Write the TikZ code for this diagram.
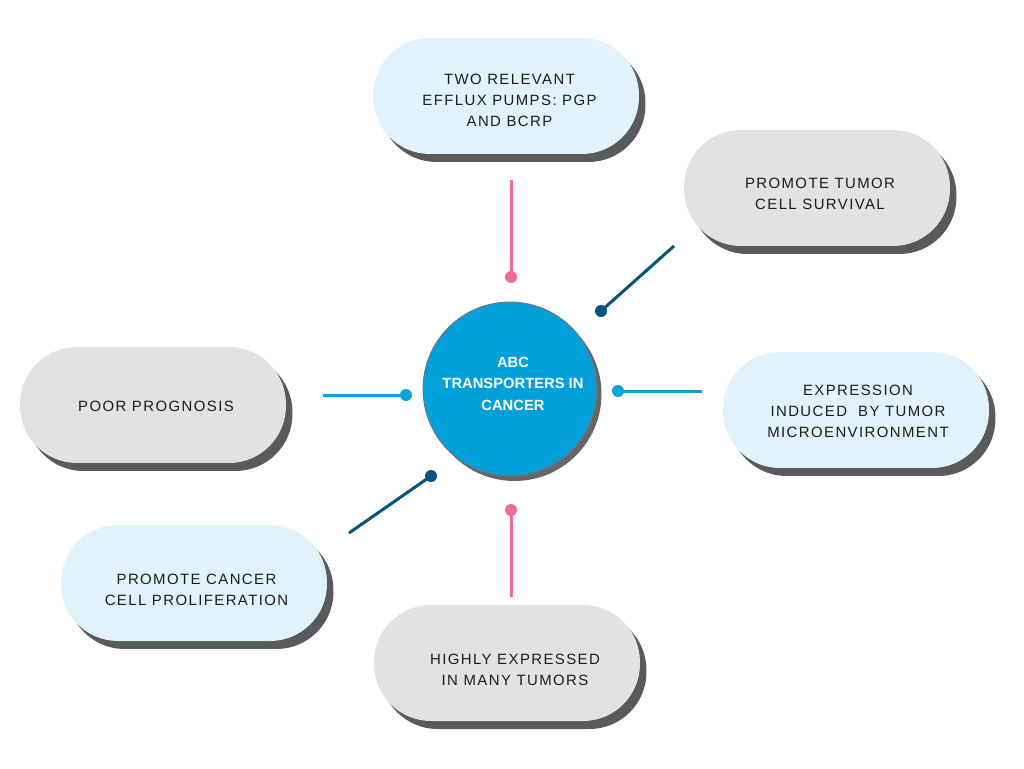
\documentclass[tikz,border=0pt]{standalone}
\usepackage{fontspec}
\setmainfont{Liberation Sans}
\newfontfamily\pillfont[LetterSpace=9.5]{Liberation Sans}
\usetikzlibrary{shadows}
\definecolor{hubblue}{HTML}{02A0DA}
\definecolor{lineblue}{HTML}{0AA2DB}
\definecolor{darkblue}{HTML}{03557C}
\definecolor{pinkline}{HTML}{F06A96}
\definecolor{paleblue}{HTML}{E0F3FD}
\definecolor{palegray}{HTML}{E2E2E2}
\definecolor{shadowgray}{HTML}{5A5A5A}
\definecolor{textdark}{HTML}{1C1C1C}

\begin{document}
\begin{tikzpicture}[x=0.02cm,y=-0.02cm,
  pill/.style={rectangle,rounded corners=1.14cm,minimum width=5.32cm,minimum height=2.32cm,
    drop shadow={shadow xshift=0.13cm,shadow yshift=-0.16cm,fill=shadowgray,opacity=1}},
  pilltext/.style={align=center,text=textdark,font=\pillfont\fontsize{8.5}{11.9}\selectfont},
  bluepill/.style={pill,fill=paleblue},
  graypill/.style={pill,fill=palegray},
  hub/.style={circle,fill=hubblue,draw=black!55,line width=0.5pt,minimum size=3.48cm,
    drop shadow={shadow xshift=0.09cm,shadow yshift=-0.1cm,fill=black!60,opacity=1}},
  hubtext/.style={align=center,text=white,font=\bfseries\fontsize{8.4}{12.2}\selectfont},
  link/.style={line width=0.06cm},
  dot/.style={circle,inner sep=0pt,minimum size=0.24cm}]
\useasboundingbox (0,0) rectangle (1024,768);
\node[hub,label={[hubtext,xshift=0.06cm,yshift=0.11cm]center:{ABC\\TRANSPORTERS IN\\CANCER}}] (abc) at (510,389) {};
\node[bluepill,label={[pilltext,xshift=0.07cm,yshift=-0.08cm]center:{TWO RELEVANT\\EFFLUX PUMPS: PGP\\AND BCRP}}] (pumps) at (506,96) {};
\node[graypill,label={[pilltext,xshift=0.06cm,yshift=-0.12cm]center:{PROMOTE TUMOR\\CELL SURVIVAL}}] (survival) at (817,188) {};
\node[bluepill,label={[pilltext,xshift=0.04cm,yshift=-0.02cm]center:{EXPRESSION\\INDUCED\ \ BY TUMOR\\MICROENVIRONMENT}}] (micro) at (856,410) {};
\node[graypill,label={[pilltext,xshift=0.06cm,yshift=-0.02cm]center:{POOR PROGNOSIS}}] (prognosis) at (153,405) {};
\node[bluepill,label={[pilltext,xshift=0.05cm,yshift=-0.14cm]center:{PROMOTE CANCER\\CELL PROLIFERATION}}] (prolif) at (194,583) {};
\node[graypill,label={[pilltext,xshift=0.16cm,yshift=-0.14cm]center:{HIGHLY EXPRESSED\\IN MANY TUMORS}}] (tumors) at (507,663) {};
\coordinate (topA) at (511,180);
\node[dot,fill=pinkline] (topB) at (511,277) {};
\coordinate (trA) at (674,246);
\node[dot,fill=darkblue] (trB) at (601,311) {};
\coordinate (rA) at (702,391);
\node[dot,fill=lineblue] (rB) at (618,391) {};
\coordinate (lA) at (323,395);
\node[dot,fill=lineblue] (lB) at (406,395) {};
\coordinate (blA) at (349,533);
\node[dot,fill=darkblue] (blB) at (431,476) {};
\coordinate (botA) at (511,597);
\node[dot,fill=pinkline] (botB) at (511,510) {};
\draw[link,pinkline] (topA) -- (topB.center);
\draw[link,darkblue] (trA) -- (trB.center);
\draw[link,lineblue] (rA) -- (rB.center);
\draw[link,lineblue] (lA) -- (lB.center);
\draw[link,darkblue] (blA) -- (blB.center);
\draw[link,pinkline] (botA) -- (botB.center);
\end{tikzpicture}
\end{document}
